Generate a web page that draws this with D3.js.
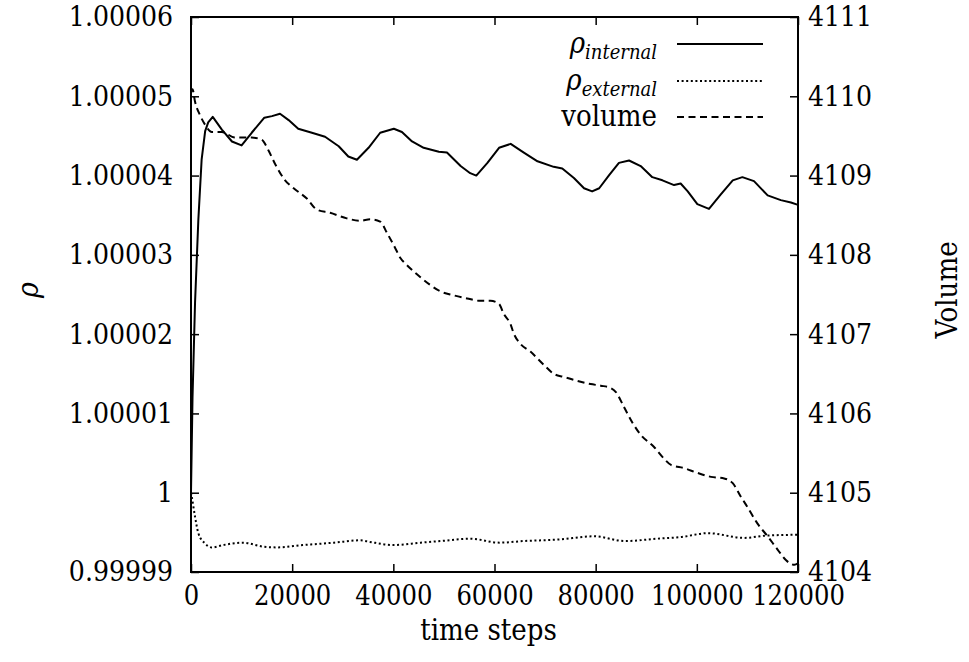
<!DOCTYPE html>
<html>
<head>
<meta charset="utf-8">
<script src="https://cdn.jsdelivr.net/npm/d3@7"></script>
<style>
  html, body { margin: 0; padding: 0; background: #fff; }
</style>
</head>
<body>
<div id="chart"></div>
<script>
// ── Data ─────────────────────────────────────────
const timeInternal = [0, 300, 800, 1450, 2100, 2800, 3400, 4300, 6100, 8100, 10000, 12000, 14500, 16000, 17600, 19300, 21200, 23900, 26500, 29200, 31100, 32800, 35100, 37400, 40100, 41700, 43700, 46000, 49000, 50600, 53300, 55200, 56400, 58600, 60900, 63200, 65800, 68500, 71700, 73400, 75700, 77700, 79300, 80700, 82700, 84600, 86600, 88900, 91200, 93200, 95500, 96800, 98200, 100100, 102400, 104700, 107100, 109000, 111300, 114000, 116600, 118600, 120000];
const rhoInternal = [1.0, 1.000012, 1.000024, 1.0000344, 1.000042, 1.0000456, 1.0000467, 1.0000474, 1.0000458, 1.0000443, 1.0000438, 1.0000454, 1.0000473, 1.0000475, 1.0000478, 1.000047, 1.0000459, 1.0000454, 1.0000449, 1.0000437, 1.0000424, 1.000042, 1.0000435, 1.0000454, 1.0000459, 1.0000455, 1.0000443, 1.0000435, 1.000043, 1.0000429, 1.0000412, 1.0000403, 1.00004, 1.0000416, 1.0000435, 1.000044, 1.0000429, 1.0000418, 1.0000411, 1.0000409, 1.0000397, 1.0000384, 1.000038, 1.0000384, 1.0000401, 1.0000416, 1.0000419, 1.0000412, 1.0000398, 1.0000394, 1.0000388, 1.000039, 1.000038, 1.0000364, 1.0000358, 1.0000376, 1.0000394, 1.0000398, 1.0000393, 1.0000375, 1.0000369, 1.0000366, 1.0000363];

const timeExternal = [0, 150, 790, 1450, 2770, 4100, 6340, 10300, 14300, 17000, 22100, 24160, 28300, 33470, 35300, 40060, 45400, 49300, 55250, 61000, 65700, 72700, 79700, 85900, 92100, 96800, 102200, 109300, 113900, 120000];
const rhoExternal = [1.0, 0.9999995, 0.999997, 0.9999949, 0.9999936, 0.9999931, 0.9999934, 0.9999937, 0.9999932, 0.9999931, 0.9999934, 0.9999935, 0.9999937, 0.999994, 0.9999938, 0.9999934, 0.9999937, 0.9999939, 0.9999942, 0.9999937, 0.9999939, 0.9999941, 0.9999945, 0.9999939, 0.9999942, 0.9999944, 0.9999949, 0.9999943, 0.9999946, 0.9999947];

const timeVolume = [0, 300, 800, 1800, 2800, 4100, 6100, 8700, 12000, 14000, 15300, 16600, 18600, 20300, 22900, 24900, 27500, 30800, 33500, 35400, 37400, 38800, 40100, 41400, 42700, 45300, 47300, 49300, 51900, 54600, 57200, 59200, 60900, 61800, 63200, 63800, 65100, 67100, 69800, 71700, 73700, 76400, 79000, 81000, 83000, 84000, 85600, 87300, 88900, 91500, 93500, 94900, 97500, 100100, 102800, 105400, 107100, 108700, 110000, 112000, 114000, 116000, 117600, 119300, 120000];
const volume = [4110.05, 4110.09, 4109.93, 4109.76, 4109.64, 4109.55, 4109.55, 4109.48, 4109.48, 4109.45, 4109.32, 4109.15, 4108.94, 4108.84, 4108.71, 4108.57, 4108.53, 4108.46, 4108.43, 4108.45, 4108.42, 4108.27, 4108.12, 4107.96, 4107.87, 4107.72, 4107.62, 4107.54, 4107.49, 4107.45, 4107.42, 4107.42, 4107.38, 4107.26, 4107.12, 4107.01, 4106.88, 4106.78, 4106.61, 4106.50, 4106.46, 4106.41, 4106.37, 4106.35, 4106.32, 4106.27, 4106.08, 4105.88, 4105.73, 4105.58, 4105.43, 4105.35, 4105.31, 4105.25, 4105.20, 4105.18, 4105.12, 4104.95, 4104.82, 4104.61, 4104.45, 4104.28, 4104.15, 4104.09, 4104.11];

// ── Ticks ───────────────────────────────────────
const timeTicks = [0, 20000, 40000, 60000, 80000, 100000, 120000];
const rhoTicks = [0.99999, 1, 1.00001, 1.00002, 1.00003, 1.00004, 1.00005, 1.00006];
const rhoTickLabels = ["0.99999", "1", "1.00001", "1.00002", "1.00003", "1.00004", "1.00005", "1.00006"];
const volumeTicks = [4104, 4105, 4106, 4107, 4108, 4109, 4110, 4111];

const legendLabels = ["internal", "external", "volume"];

// ── Layout ──────────────────────────────────────
const W = 969, H = 662;
const margin = { top: 17, right: 171, bottom: 90, left: 191 };
const width  = W - margin.left - margin.right;   // 607
const height = H - margin.top  - margin.bottom;  // 555
const FONT = 28;
const SERIF = "'DejaVu Serif Condensed', 'DejaVu Serif', serif";
const DOTS = "2,2.6";

const svg = d3.select("#chart").append("svg")
  .attr("width", W).attr("height", H);

const g = svg.append("g")
  .attr("transform", `translate(${margin.left},${margin.top})`);

// ── Scales ──────────────────────────────────────
const x  = d3.scaleLinear().domain([0, 120000]).range([0, width]);
const y  = d3.scaleLinear().domain([0.99999, 1.00006]).range([height, 0]);
const y2 = d3.scaleLinear().domain([4104, 4111]).range([height, 0]);

// ── Axes (gnuplot style: inward ticks) ──────────
function styleAxis(sel) {
  sel.attr("font-family", null).attr("font-size", null);
  sel.select(".domain").remove();
  sel.selectAll(".tick line").attr("stroke", "#000").attr("stroke-width", 1.5);
  sel.selectAll(".tick text")
    .style("font-family", SERIF)
    .style("font-size", FONT + "px")
    .attr("fill", "#000");
}

g.append("g")
  .attr("transform", `translate(0,${height})`)
  .call(d3.axisBottom(x).tickValues(timeTicks).tickFormat(d3.format("d"))
    .tickSize(-8).tickPadding(14))
  .call(styleAxis)
  .call(sel => sel.selectAll(".tick text").style("font-size", "27px"));

g.append("g")
  .call(d3.axisTop(x).tickValues(timeTicks).tickFormat("").tickSize(-8))
  .call(styleAxis);

g.append("g")
  .call(d3.axisLeft(y).tickValues(rhoTicks).tickFormat((d, i) => rhoTickLabels[i])
    .tickSize(-8).tickPadding(18))
  .call(styleAxis);

g.append("g")
  .attr("transform", `translate(${width},0)`)
  .call(d3.axisRight(y2).tickValues(volumeTicks).tickFormat(d3.format("d"))
    .tickSize(-8).tickPadding(10))
  .call(styleAxis);

// ── Frame ───────────────────────────────────────
g.append("rect")
  .attr("x", 0).attr("y", 0).attr("width", width).attr("height", height)
  .attr("fill", "none").attr("stroke", "#000").attr("stroke-width", 2);

// ── Lines ───────────────────────────────────────
const lineRho = d3.line()
  .x(d => x(d[0])).y(d => y(d[1]));
const lineVol = d3.line()
  .x(d => x(d[0])).y(d => y2(d[1]))
  .curve(d3.curveMonotoneX);

g.append("path")
  .datum(d3.zip(timeInternal, rhoInternal))
  .attr("fill", "none").attr("stroke", "#000").attr("stroke-width", 2)
  .attr("stroke-linejoin", "round")
  .attr("d", lineRho);

g.append("path")
  .datum(d3.zip(timeExternal, rhoExternal))
  .attr("fill", "none").attr("stroke", "#000").attr("stroke-width", 2)
  .attr("stroke-dasharray", DOTS)
  .attr("d", lineRho.curve(d3.curveMonotoneX));

g.append("path")
  .datum(d3.zip(timeVolume, volume))
  .attr("fill", "none").attr("stroke", "#000").attr("stroke-width", 2)
  .attr("stroke-dasharray", "7,4.5")
  .attr("d", lineVol);

// ── Axis labels ─────────────────────────────────
function label(sel, size) {
  return sel.style("font-family", SERIF).style("font-size", size + "px").attr("fill", "#000");
}

svg.append("text")
  .attr("x", margin.left + width / 2 - 6).attr("y", 640)
  .attr("text-anchor", "middle").call(label, 29)
  .text("time steps");

svg.append("text")
  .attr("transform", "translate(38,290) rotate(-90)")
  .attr("text-anchor", "middle").call(label, 30)
  .style("font-style", "italic")
  .text("ρ");

svg.append("text")
  .attr("transform", "translate(957,290) rotate(-90)")
  .attr("text-anchor", "middle").call(label, 29)
  .text("Volume");

// ── Legend ──────────────────────────────────────
const legend = svg.append("g");
const legendY = [44, 81, 117];
const dashes = [null, DOTS, "7,4.5"];

legendLabels.forEach((lab, i) => {
  const ly = legendY[i];
  const t = legend.append("text")
    .attr("x", 657).attr("y", ly + 9)
    .attr("text-anchor", "end").call(label, 29);
  if (i < 2) {
    t.append("tspan").style("font-style", "italic").text("ρ");
    t.append("tspan").style("font-style", "italic").style("font-size", "20px")
      .attr("dy", 6).text(lab);
  } else {
    t.text(lab);
  }
  legend.append("line")
    .attr("x1", 677).attr("x2", 763).attr("y1", ly).attr("y2", ly)
    .attr("stroke", "#000").attr("stroke-width", 2)
    .attr("stroke-dasharray", dashes[i]);
});
</script>
</body>
</html>
